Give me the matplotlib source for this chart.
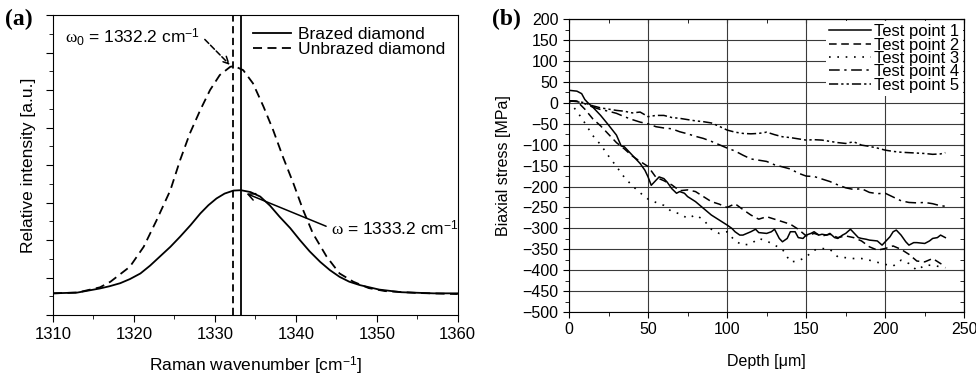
import matplotlib
matplotlib.use('Agg')
import matplotlib.pyplot as plt
from matplotlib.ticker import MultipleLocator, NullFormatter

plt.rcParams['font.family'] = ['Liberation Sans', 'DejaVu Sans']
plt.rcParams['mathtext.fontset'] = 'custom'
plt.rcParams['mathtext.rm'] = 'Liberation Sans'
plt.rcParams['mathtext.it'] = 'Liberation Serif'

# ---- panel (a): Raman spectra ----
wn_brazed = [1310, 1313, 1315.8, 1317, 1318.3, 1319.5, 1320.8, 1322, 1323.2, 1324.5,
             1325.7, 1327, 1328.2, 1329.2, 1330.2, 1331.2, 1332.3, 1333.2, 1334.4,
             1335.6, 1336.8, 1338.0, 1339.3, 1340.5, 1341.7, 1343.0, 1344.2, 1345.4,
             1346.6, 1347.9, 1350.3, 1353, 1357, 1360]
int_brazed = [0.58, 0.60, 0.71, 0.77, 0.85, 0.96, 1.11, 1.32, 1.56, 1.82,
              2.09, 2.40, 2.71, 2.93, 3.11, 3.24, 3.32, 3.33, 3.28,
              3.16, 2.92, 2.62, 2.32, 2.00, 1.70, 1.42, 1.20, 1.02,
              0.89, 0.80, 0.68, 0.61, 0.58, 0.58]

wn_unbrazed = [1310, 1313, 1315.8, 1317.1, 1319.5, 1321.2, 1322.8, 1324.5, 1325.7,
               1326.9, 1328.2, 1329.4, 1330.6, 1331.9, 1332.4, 1333.5, 1334.7, 1336.0,
               1337.2, 1338.4, 1339.7, 1340.9, 1342.1, 1343.8, 1345.4, 1347.1, 1349,
               1351, 1355, 1360]
int_unbrazed = [0.58, 0.60, 0.74, 0.89, 1.29, 1.82, 2.53, 3.33, 4.13,
                4.84, 5.47, 6.00, 6.40, 6.62, 6.64, 6.53, 6.18, 5.56,
                4.93, 4.22, 3.51, 2.80, 2.18, 1.56, 1.11, 0.89, 0.72,
                0.64, 0.59, 0.56]

peak_unbrazed = 1332.2
peak_brazed = 1333.2

# ---- panel (b): biaxial stress vs depth ----
depth_tp1 = [0, 5, 8, 10, 12, 15, 20, 25, 30, 33, 35, 40, 45, 48, 50, 52, 55, 57, 60, 62,
             65, 68, 70, 73, 75, 80, 85, 90, 95, 100, 103, 105, 108, 110, 115, 118, 120,
             125, 128, 130, 133, 135, 138, 140, 143, 145, 148, 150, 153, 155, 158, 160,
             163, 165, 168, 170, 173, 175, 178, 180, 183, 185, 188, 190, 195, 198, 200,
             203, 205, 207, 210, 213, 215, 218, 220, 225, 228, 230, 233, 235, 238]
stress_tp1 = [30, 28, 22, 8, 0, -10, -30, -53, -77, -103, -105, -125, -145, -161, -177,
              -197, -185, -177, -181, -189, -205, -216, -212, -216, -224, -236, -252,
              -268, -280, -292, -300, -308, -316, -316, -308, -302, -310, -312, -308,
              -302, -324, -332, -324, -308, -308, -322, -324, -316, -312, -308, -316,
              -314, -316, -312, -322, -324, -316, -312, -302, -310, -322, -324, -326,
              -328, -330, -340, -332, -320, -308, -304, -316, -332, -340, -334, -334,
              -336, -330, -324, -322, -316, -322]

depth = [0, 5, 10, 15, 20, 25, 30, 35, 40, 45, 50, 55, 60, 65, 70, 75, 80, 85, 90, 95,
         100, 105, 110, 115, 120, 125, 130, 135, 140, 145, 150, 155, 160, 165, 170, 175,
         180, 185, 190, 195, 200, 205, 210, 215, 220, 225, 230, 235, 238]
stress_tp2 = [5, 4, -15, -38, -55, -75, -95, -110, -127, -140, -152, -178, -186, -196,
              -210, -208, -212, -224, -236, -242, -250, -241, -255, -268, -278, -272,
              -278, -284, -290, -302, -318, -312, -318, -314, -322, -318, -322, -330,
              -344, -352, -348, -342, -350, -362, -378, -380, -372, -384, -390]
stress_tp3 = [3, -20, -48, -78, -100, -127, -152, -178, -198, -215, -230, -238, -245,
              -260, -265, -276, -268, -279, -302, -312, -308, -330, -340, -337, -324,
              -330, -340, -350, -380, -378, -368, -352, -348, -350, -368, -370, -372,
              -372, -376, -381, -386, -390, -376, -384, -400, -388, -388, -392, -394]
stress_tp4 = [5, 3, -2, -10, -16, -20, -25, -33, -40, -46, -50, -57, -60, -62, -69, -74,
              -80, -85, -92, -100, -108, -115, -125, -134, -137, -140, -148, -153, -158,
              -168, -175, -176, -182, -188, -196, -203, -207, -205, -214, -217, -216,
              -225, -234, -238, -239, -238, -241, -246, -247]
stress_tp5 = [5, 4, 0, -7, -12, -15, -18, -20, -24, -22, -33, -30, -30, -35, -37, -40,
              -43, -45, -48, -56, -65, -70, -73, -74, -73, -70, -76, -81, -83, -86, -89,
              -88, -89, -92, -95, -97, -93, -101, -104, -108, -113, -116, -118, -119,
              -120, -121, -123, -122, -119]

fig = plt.figure(figsize=(9.76, 3.76), dpi=100)

# Panel (a)
ax1 = fig.add_axes([0.0543, 0.162, 0.4147, 0.798])
ax1.plot(wn_brazed, int_brazed, color='black', lw=1.3, label='Brazed diamond')
ax1.plot(wn_unbrazed, int_unbrazed, color='black', lw=1.3, ls=(0, (5, 3)),
         label='Unbrazed diamond')
ax1.axvline(peak_brazed, color='black', lw=1.3)
ax1.axvline(peak_unbrazed, color='black', lw=1.3, ls=(0, (4, 2.5)))
ax1.set_xlim(1310, 1360)
ax1.set_ylim(0, 8)
ax1.xaxis.set_major_locator(MultipleLocator(10))
ax1.xaxis.set_minor_locator(MultipleLocator(5))
ax1.yaxis.set_major_locator(MultipleLocator(1))
ax1.yaxis.set_minor_locator(MultipleLocator(0.5))
ax1.yaxis.set_major_formatter(NullFormatter())
ax1.tick_params(which='both', direction='out', top=False, right=False, labelsize=12)
ax1.tick_params(which='major', length=5)
ax1.tick_params(which='minor', length=3)
ax1.set_xlabel('Raman wavenumber [cm$^{\\mathrm{-1}}$]', fontsize=12.5, labelpad=9)
ax1.set_ylabel('Relative intensity [a.u.]', fontsize=12.5, labelpad=4)

ax1.annotate(r'$\omega_{\mathrm{0}}$ = 1332.2 cm$^{\mathrm{-1}}$', xy=(1331.85, 6.67),
             xytext=(1311.5, 7.42), ha='left', va='center', fontsize=12.5,
             arrowprops=dict(arrowstyle='->', color='black', lw=1.1, ls='--',
                             relpos=(1.0, 0.6), shrinkA=2, shrinkB=0))
ax1.annotate(r'$\omega$ = 1333.2 cm$^{\mathrm{-1}}$', xy=(1333.9, 3.24),
             xytext=(1344.4, 2.31), ha='left', va='center', fontsize=12.5,
             arrowprops=dict(arrowstyle='->', color='black', lw=1.1,
                             relpos=(0.0, 0.5), shrinkA=2, shrinkB=0))
ax1.legend(loc='upper right', frameon=False, fontsize=12.5, handlelength=2.2,
           labelspacing=0.0, handletextpad=0.4, borderaxespad=0.3)

# Panel (b)
ax2 = fig.add_axes([0.583, 0.170, 0.405, 0.779])
ax2.plot(depth_tp1, stress_tp1, color='black', lw=1.1, label='Test point 1')
ax2.plot(depth, stress_tp2, color='black', lw=1.1, ls=(0, (5, 3)), label='Test point 2')
ax2.plot(depth, stress_tp3, color='black', lw=1.2, ls=(0, (1, 4)), label='Test point 3')
ax2.plot(depth, stress_tp4, color='black', lw=1.1, ls=(0, (7, 3, 1.5, 3)),
         label='Test point 4')
ax2.plot(depth, stress_tp5, color='black', lw=1.1, ls=(0, (6, 2, 1.5, 2, 1.5, 2)),
         label='Test point 5')
ax2.set_xlim(0, 250)
ax2.set_ylim(-500, 200)
ax2.xaxis.set_major_locator(MultipleLocator(50))
ax2.xaxis.set_minor_locator(MultipleLocator(25))
ax2.yaxis.set_major_locator(MultipleLocator(50))
ax2.yaxis.set_minor_locator(MultipleLocator(25))
ax2.grid(True, which='major', color='#3a3a3a', lw=0.8)
ax2.set_axisbelow(True)
ax2.tick_params(which='both', direction='out', labelsize=11.5)
ax2.tick_params(which='major', length=4)
ax2.tick_params(which='minor', length=3)

top = ax2.secondary_xaxis('top')
top.xaxis.set_major_locator(MultipleLocator(50))
top.xaxis.set_minor_locator(MultipleLocator(25))
top.tick_params(which='both', direction='in', labeltop=False, length=3)
right = ax2.secondary_yaxis('right')
right.yaxis.set_major_locator(MultipleLocator(50))
right.yaxis.set_minor_locator(MultipleLocator(25))
right.tick_params(which='both', direction='in', labelright=False, length=3)

ax2.set_xlabel('Depth [\u03bcm]', fontsize=11.5, labelpad=12)
ax2.set_ylabel('Biaxial stress [MPa]', fontsize=11.5, labelpad=8)
leg = ax2.legend(loc='upper right', fontsize=12, frameon=True, fancybox=False,
                 facecolor='white', edgecolor='none', framealpha=1.0,
                 labelspacing=-0.1, handlelength=2.5, handletextpad=0.2,
                 borderpad=0.2, borderaxespad=0.1)

fig.text(0.005, 0.947, '(a)', family='Liberation Serif', fontweight='bold',
         fontsize=17, va='center')
fig.text(0.504, 0.947, '(b)', family='Liberation Serif', fontweight='bold',
         fontsize=17, va='center')

fig.savefig('out.png', dpi=100)
